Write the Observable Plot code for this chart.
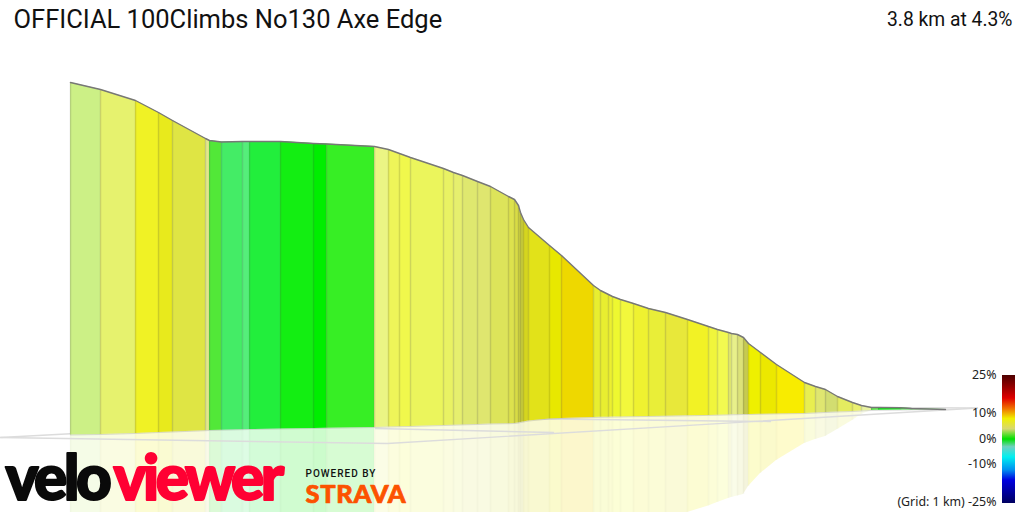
<!DOCTYPE html>
<html><head><meta charset="utf-8">
<script src="https://cdn.jsdelivr.net/npm/d3@7"></script>
<script src="https://cdn.jsdelivr.net/npm/@observablehq/plot@0.6"></script>
<style>html,body{margin:0;padding:0;background:#fff;overflow:hidden}svg{display:block}</style>
</head><body><div id="chart"></div>
<script>
const segX=[70,100,135,158,172,205,209,221,242,249,280,313,326,374,388,399,410,443,453,462,477,490,508,514,518,520,523,528,549,561,593,600,608,612,620,633,648,665,687,708,717,728,731,737,743,748,760,776,804,815,825,837,852,861,871,878,900,911,945];
const segTop=[82,89,100,112,120,138,140,141.5,141,141,141,143,143.5,146,149,153,157,168,172,175,181,186,196,199,205,212,219,227,245,255,285,290,294,296,299,303,308,312,319,326,329,332,333,334,337,343,352,364,382,386,389,396,402,405,407,407,407.3,408,409];
const segBase=[434.5,434,433,432,431.5,430.2,430,429.7,429.2,429,428.5,428,427.8,427,426.5,426.2,426,425,424.7,424.4,424,423.5,423.2,423,422.5,422,421.5,420.5,418.5,418,417,416.8,416.7,416.6,416.5,416.2,416,415.7,415.3,414.9,414.7,414.4,414.3,414.2,414,414,413.7,413.4,413,412.5,412,411.5,411,410.5,410,409.8,409.6,409.4,409];
const reflBottom=[512,512,512,512,512,512,512,512,512,512,512,512,512,512,512,512,512,512,512,512,512,512,512,512,512,512,512,512,512,512,512,512,512,512,512,512,512,512,512,505.5,502,498,497,495.5,494,486,473,460,443,439,436,429,420,414,410,409.8,409.6,409.4,409];
const segColor=["#ccf086","#e6f26e","#f0f225","#e8ea1c","#dfe544","#e2e88a","#52e838","#44ec66","#55ee7a","#22ee3c","#13ee12","#00ee00","#37ee25","#ebf584","#eef559","#f0f84c","#ebf55c","#e9f263","#e6ef6e","#dfe86f","#dfe66f","#dde45a","#dde24d","#d8dc44","#d0d43c","#c8cc38","#d5d51e","#e2e219","#e8e800","#eed800","#e8ee30","#e8ee30","#ecf030","#eef830","#f2f83c","#eff230","#e9ee38","#e8e83a","#f2f225","#f0f53c","#f2fa50","#e4ec70","#e8f08a","#dce278","#c6ca50","#eef000","#ece800","#f8ec00","#e8ee50","#dfe670","#d2dd70","#e4ec60","#eaf070","#e8f2a0","#60e850","#0ce810","#37e830","#55e045"];

const gridLines=[
  {id:"a",x:[0,70],y:[437,433.3]},
  {id:"b",x:[0,387,977],y:[437,443,407.5]},
  {id:"c",x:[375,553],y:[428,432]},
  {id:"d",x:[527,770],y:[418.3,421]},
  {id:"e",x:[860,977],y:[407,407.5]}
];
const legendPct=[25,21,16,12,8,4,0,-3,-7,-12,-16,-25];
const legendColor=["#4d0000","#8a0000","#e00000","#f07000","#f0f000","#d8d870","#00e000","#70d0c0","#00f0f0","#0090f0","#0000e0","#000060"];
const legendLabels=["25%","10%","0%","-10%","(Grid: 1 km) -25%"];
const legendLabelY=[374.5,412.5,438.5,463.5,501.5];
const titleText="OFFICIAL 100Climbs No130 Axe Edge";
const statText="3.8 km at 4.3%";

const segRows=segColor.flatMap((c,i)=>[
  {id:i,x:segX[i],top:segTop[i],base:segBase[i],bot:reflBottom[i],c},
  {id:i,x:segX[i+1],top:segTop[i+1],base:segBase[i+1],bot:reflBottom[i+1],c}
]);
const edgeRows=segX.map((x,i)=>({x,top:segTop[i],base:segBase[i],bot:reflBottom[i]}));
const gridRows=gridLines.flatMap(g=>g.x.map((x,i)=>({id:g.id,x,y:g.y[i]})));
const legendRows=legendLabels.map((t,i)=>({t,y:legendLabelY[i]}));

const gradientDefs=()=>{
  const defs=d3.create("svg:defs");
  const g=defs.append("linearGradient").attr("id","legendGrad").attr("x1",0).attr("x2",0).attr("y1",0).attr("y2",1);
  legendPct.forEach((p,i)=>g.append("stop").attr("offset",(25-p)/50).attr("stop-color",legendColor[i]));
  return defs.node();
};

const svg=Plot.plot({
  width:1024,height:512,margin:0,
  x:{domain:[0,1024],range:[0,1024],axis:null},
  y:{domain:[0,512],range:[0,512],axis:null},
  color:{type:"identity"},
  marks:[
    gradientDefs,
    Plot.areaY(segRows,{x:"x",y1:"base",y2:"bot",z:"id",fill:"c",fillOpacity:0.2}),
    Plot.ruleX(edgeRows,{x:"x",y1:"base",y2:"bot",stroke:"#555",strokeOpacity:0.03,strokeWidth:1.5}),
    Plot.line(gridRows,{x:"x",y:"y",z:"id",stroke:"#dcdcdc",strokeWidth:1.4}),
    Plot.areaY(segRows,{x:"x",y1:"top",y2:"base",z:"id",fill:"c"}),
    Plot.ruleX(edgeRows,{x:"x",y1:"top",y2:"base",stroke:"#555",strokeOpacity:0.2,strokeWidth:1.5}),
    Plot.line(edgeRows,{x:"x",y:"top",stroke:"#777",strokeWidth:1.4}),
    Plot.line(edgeRows,{x:"x",y:"base",stroke:"#777",strokeOpacity:0.25,strokeWidth:1}),
    Plot.text([titleText],{x:[13],y:[19],text:d=>d,textAnchor:"start",fontFamily:"Roboto",fontSize:25.5,fill:"#111"}),
    Plot.text([statText],{x:[1012],y:[19],text:d=>d,textAnchor:"end",fontFamily:"Roboto",fontSize:19.3,fill:"#111"}),
    Plot.rect([{a:1002,b:1015,c:375,d:503}],{x1:"a",x2:"b",y1:"c",y2:"d",fill:()=>"url(#legendGrad)"}),
    Plot.text(legendRows,{x:()=>996,y:"y",text:"t",textAnchor:"end",fontFamily:"Noto Sans",fontSize:12.4,fill:"#222"}),
    Plot.text(["velo"],{x:[5],y:[480],text:d=>d,textAnchor:"start",fontFamily:"Lato",fontWeight:900,fontSize:62,fill:"#0a0a0a",stroke:"#0a0a0a",strokeWidth:2}),
    Plot.text(["viewer"],{x:[113],y:[480],text:d=>d,textAnchor:"start",fontFamily:"Lato",fontWeight:900,fontSize:62,fill:"#ff0033",stroke:"#ff0033",strokeWidth:2}),
    Plot.text(["POWERED BY"],{x:[305],y:[473],text:d=>d,textAnchor:"start",fontFamily:"Roboto",fontWeight:500,fontSize:10,fill:"#111"}),
    Plot.text(["STRAVA"],{x:[305],y:[494],text:d=>d,textAnchor:"start",fontFamily:"Lato",fontWeight:900,fontSize:25.5,fill:"#fc5200",stroke:"#fc5200",strokeWidth:0.7})
  ]
});
const sp={velo:"-3.5px",viewer:"-3.5px","POWERED BY":"1px",STRAVA:"0.7px"};
d3.select(svg).selectAll("text").each(function(){const s=sp[this.textContent];if(s)this.style.letterSpacing=s;});
svg.style.background="#fff";
document.getElementById("chart").append(svg);
</script></body></html>
